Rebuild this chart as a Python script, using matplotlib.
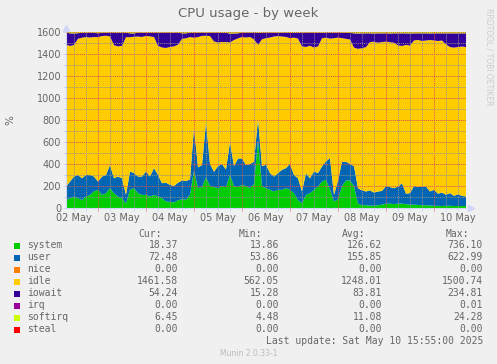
import matplotlib
matplotlib.use("Agg")
import matplotlib.pyplot as plt
import matplotlib.dates as mdates
from matplotlib.patches import Rectangle
from matplotlib.ticker import MultipleLocator, FuncFormatter, NullFormatter
import pandas as pd

# samples every 2 hours, 02 May 08:00 -> 10 May 16:00
times = pd.date_range("2025-05-02 08:00", periods=101, freq="2h")

system = [73, 88, 104, 88, 73, 104, 119, 150, 165, 119, 134, 180, 134, 104, 88, 40, 165, 180, 134, 119, 119, 104, 119, 104, 88,
          60, 55, 50, 70, 80, 75, 120, 340, 180, 190, 280, 200, 190, 180, 200, 190, 300, 200, 190, 210, 200, 180, 220, 620, 200,
          180, 165, 150, 165, 165, 180, 165, 134, 73, 43, 119, 134, 165, 195, 240, 256, 165, 58, 80, 200, 250, 250, 200, 40, 25,
          25, 22, 20, 25, 30, 40, 40, 35, 40, 40, 35, 30, 30, 28, 25, 25, 22, 20, 20, 18, 20, 20, 18, 18, 18, 18]
user = [122, 152, 182, 212, 197, 196, 181, 136, 75, 167, 166, 210, 136, 182, 182, 80, 167, 137, 152, 167, 213, 182, 244, 196, 137,
        170, 155, 150, 160, 170, 170, 140, 390, 190, 200, 500, 200, 140, 200, 200, 160, 300, 180, 260, 240, 190, 220, 200, 190, 180,
        213, 152, 136, 152, 182, 183, 235, 166, 197, 107, 198, 136, 167, 122, 138, 167, 289, 61, 170, 220, 170, 150, 180, 140, 135,
        125, 138, 120, 125, 125, 160, 150, 145, 155, 185, 95, 105, 170, 162, 170, 170, 128, 145, 110, 122, 100, 115, 92, 107, 92, 87]
idle = [1289, 1233, 1196, 1239, 1278, 1254, 1250, 1268, 1313, 1277, 1266, 1170, 1210, 1183, 1204, 1433, 1221, 1240, 1273, 1269,
        1232, 1274, 1191, 1175, 1234, 1225, 1254, 1269, 1255, 1288, 1298, 1294, 818, 1184, 1175, 786, 1163, 1184, 1125, 1109,
        1158, 906, 1147, 1093, 1104, 1160, 1154, 1114, 673, 1154, 1151, 1233, 1273, 1246, 1212, 1192, 1144, 1249, 1270, 1319,
        1147, 1205, 1127, 1152, 1165, 1126, 1086, 1425, 1299, 1124, 1118, 1132, 1078, 1267, 1293, 1313, 1348, 1372, 1353, 1353,
        1313, 1317, 1323, 1283, 1248, 1353, 1342, 1323, 1338, 1323, 1328, 1377, 1358, 1388, 1383, 1368, 1328, 1348, 1338, 1358, 1358]
iowait = [110, 115, 105, 50, 45, 40, 45, 40, 35, 30, 28, 35, 115, 125, 120, 40, 35, 30, 35, 40, 30, 35, 40,
          120, 135, 140, 130, 125, 110, 50, 45, 40, 45, 40, 30, 28, 32, 80, 90, 85, 85, 80, 60, 45, 40, 45, 40,
          60, 110, 60, 50, 45, 35, 30, 35, 40, 50, 45, 55, 125, 130, 120, 135, 125, 50, 45, 55, 50, 45, 50, 55,
          60, 130, 140, 135, 125, 80, 75, 85, 80, 75, 80, 85, 110, 115, 105, 110, 65, 60, 70, 65, 60, 65, 70, 65,
          100, 125, 130, 125, 120, 125]
softirq = [6, 12, 13, 11, 7, 6, 5, 6, 12, 7, 6, 5, 5, 6, 6, 7, 12, 13, 6, 5, 6, 5, 6, 5, 6,
           5, 6, 6, 5, 12, 12, 6, 7, 6, 5, 6, 5, 6, 5, 6, 7, 14, 13, 12, 6, 5, 6, 6, 7, 6,
           6, 5, 6, 7, 6, 5, 6, 6, 5, 6, 6, 5, 6, 6, 7, 6, 5, 6, 6, 6, 7, 8, 12, 13, 12,
           12, 12, 13, 12, 12, 12, 13, 12, 12, 12, 12, 13, 12, 12, 12, 12, 13, 12, 12, 12, 12, 12, 12, 12, 12, 12]
nice = [0] * len(times)
irq = [0] * len(times)
steal = [0] * len(times)

names = ["system", "user", "nice", "idle", "iowait", "irq", "softirq", "steal"]
colors = ["#00CC00", "#0066B3", "#FF8000", "#FFCC00", "#330099", "#990099", "#CCFF00", "#FF0000"]
cur = ["18.37", "72.48", "0.00", "1461.58", "54.24", "0.00", "6.45", "0.00"]
mins = ["13.86", "53.86", "0.00", "562.05", "15.28", "0.00", "4.48", "0.00"]
avgs = ["126.62", "155.85", "0.00", "1248.01", "83.81", "0.00", "11.08", "0.00"]
maxs = ["736.10", "622.99", "0.00", "1500.74", "234.81", "0.01", "24.28", "0.00"]

W, H = 497, 364
FONT = "#666666"
AXIS = "#CFD6F8"

fig = plt.figure(figsize=(W / 100, H / 100), dpi=100)
fig.patch.set_facecolor("#F0F0F0")
ax = fig.add_axes([66 / W, 1 - 208 / H, 400 / W, 176 / H])
ax.set_facecolor("white")

ax.stackplot(times, system, user, nice, idle, iowait, irq, softirq, steal,
             colors=colors, linewidth=0)

ax.set_xlim(pd.Timestamp("2025-05-02 08:00"), pd.Timestamp("2025-05-10 16:00"))
ax.set_ylim(0, 1600)

# grid: major red, minor gray, drawn over the areas
ax.set_axisbelow(False)
ax.xaxis.set_major_locator(mdates.DayLocator())
ax.xaxis.set_major_formatter(NullFormatter())
ax.xaxis.set_minor_locator(mdates.HourLocator(byhour=[0, 6, 12, 18]))


def day_label(x, pos):
    d = mdates.num2date(x)
    return d.strftime("%d %b") if d.hour == 12 else ""


ax.xaxis.set_minor_formatter(FuncFormatter(day_label))
ax.yaxis.set_major_locator(MultipleLocator(200))
ax.yaxis.set_minor_locator(MultipleLocator(100))

ax.grid(which="major", color=(0.87, 0.31, 0.31, 0.45), linestyle=(0, (1, 1)), linewidth=0.7)
ax.grid(which="minor", color=(0.56, 0.56, 0.56, 0.45), linestyle=(0, (1, 1)), linewidth=0.7)

ax.tick_params(which="both", length=2, width=0.7, colors=AXIS, labelcolor=FONT, labelsize=7, pad=1.5)
ax.tick_params(axis="x", which="major", colors=(0.87, 0.31, 0.31, 0.6))

for s in ["top", "right"]:
    ax.spines[s].set_visible(False)
for s in ["left", "bottom"]:
    ax.spines[s].set_color(AXIS)
    ax.spines[s].set_linewidth(0.8)

# arrows at the axis ends
ax.plot([0], [1.025], marker="^", markersize=4, color=AXIS, transform=ax.transAxes, clip_on=False)
ax.plot([1.012], [0], marker=">", markersize=4, color=AXIS, transform=ax.transAxes, clip_on=False)

fig.text(248 / W, 1 - 13 / H, "CPU usage - by week", ha="center", va="center", fontsize=9.5, color=FONT)
fig.text(10 / W, 1 - 120 / H, "%", ha="center", va="center", rotation=90, fontsize=7.5, color=FONT)
fig.text(489 / W, 1 - 57 / H, "RRDTOOL / TOBI OETIKER", ha="center", va="center", rotation=270,
         fontsize=5.5, color="#CCCCCC")

# legend table
mono = "DejaVu Sans Mono"
hy = 1 - 234 / H
for label, xr in [("Cur:", 162), ("Min:", 262), ("Avg:", 365), ("Max:", 469)]:
    fig.text(xr / W, hy, label, ha="right", va="center", fontsize=7, family=mono, color=FONT)

for k, name in enumerate(names):
    y = 245.5 + 12 * k
    fy = 1 - y / H
    fig.patches.append(Rectangle((14 / W, 1 - (y + 3) / H), 6 / W, 6 / H,
                                 transform=fig.transFigure, facecolor=colors[k], edgecolor="none"))
    fig.text(27 / W, fy, name, ha="left", va="center", fontsize=7, family=mono, color=FONT)
    for vals, xr in [(cur, 178), (mins, 279), (avgs, 382), (maxs, 483)]:
        fig.text(xr / W, fy, vals[k], ha="right", va="center", fontsize=7, family=mono, color=FONT)

fig.text(483 / W, 1 - 341 / H, "Last update: Sat May 10 15:55:00 2025", ha="right", va="center",
         fontsize=7, family=mono, color=FONT)
fig.text(249 / W, 1 - 353 / H, "Munin 2.0.33-1", ha="center", va="center", fontsize=5.5, color="#BBBBBB")

fig.savefig("out.png", dpi=100, facecolor=fig.get_facecolor())
